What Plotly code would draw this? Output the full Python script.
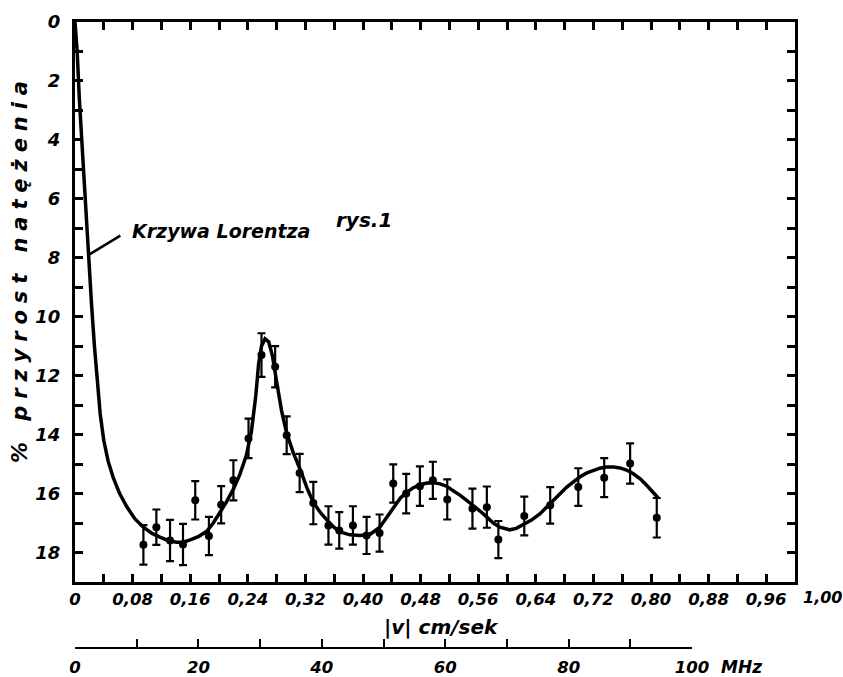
import plotly.graph_objects as go

# ---- data ----
point_x = [0.095, 0.113, 0.132, 0.150, 0.167, 0.186, 0.203, 0.220, 0.241, 0.259, 0.278,
           0.294, 0.312, 0.331, 0.352, 0.367, 0.386, 0.405, 0.423, 0.442, 0.460, 0.479,
           0.497, 0.517, 0.552, 0.572, 0.588, 0.624, 0.660, 0.699, 0.735, 0.771, 0.808]
point_y = [17.74, 17.14, 17.59, 17.73, 16.23, 17.44, 16.38, 15.55, 14.13, 11.3, 11.7,
           14.02, 15.3, 16.32, 17.08, 17.25, 17.08, 17.42, 17.34, 15.66, 16.0, 15.75,
           15.55, 16.2, 16.51, 16.46, 17.56, 16.76, 16.4, 15.78, 15.46, 14.98, 16.82]
point_err = [0.67, 0.6, 0.7, 0.7, 0.65, 0.65, 0.63, 0.68, 0.67, 0.74, 0.7,
             0.64, 0.65, 0.72, 0.65, 0.62, 0.65, 0.63, 0.63, 0.65, 0.67, 0.67,
             0.63, 0.68, 0.68, 0.7, 0.63, 0.66, 0.62, 0.64, 0.66, 0.68, 0.67]

curve_x = [0.000, 0.003, 0.006, 0.010, 0.014, 0.019, 0.023, 0.027, 0.031, 0.035, 0.040,
           0.046, 0.053, 0.062, 0.072, 0.083, 0.095, 0.107, 0.118, 0.130, 0.141, 0.150,
           0.160, 0.172, 0.183, 0.192, 0.201, 0.210, 0.220, 0.229, 0.238, 0.245, 0.251,
           0.255, 0.259, 0.264, 0.269, 0.274, 0.280, 0.287, 0.294, 0.303, 0.313, 0.322,
           0.331, 0.341, 0.350, 0.360, 0.368, 0.382, 0.396, 0.410, 0.423, 0.433, 0.442,
           0.452, 0.461, 0.470, 0.479, 0.489, 0.498, 0.507, 0.516, 0.526, 0.535, 0.544,
           0.553, 0.563, 0.572, 0.581, 0.590, 0.597, 0.604, 0.613, 0.623, 0.634, 0.646,
           0.655, 0.664, 0.674, 0.683, 0.692, 0.701, 0.711, 0.720, 0.729, 0.738, 0.748,
           0.757, 0.766, 0.775, 0.785, 0.794, 0.803, 0.810]
curve_y = [0.0, 1.0, 2.6, 4.3, 6.0, 8.0, 9.6, 11.0, 12.15, 13.3, 14.2,
           14.9, 15.45, 16.0, 16.45, 16.85, 17.14, 17.35, 17.48, 17.6, 17.65, 17.65,
           17.57, 17.45, 17.28, 17.0, 16.65, 16.3, 15.85, 15.35, 14.7, 13.9, 12.7,
           11.6, 11.0, 10.75, 10.85, 11.3, 12.2, 13.2, 13.95, 14.6, 15.2, 15.8,
           16.3, 16.65, 16.9, 17.15, 17.3, 17.4, 17.42, 17.38, 17.15, 16.8, 16.45,
           16.15, 15.95, 15.8, 15.7, 15.64, 15.63, 15.67, 15.75, 15.9, 16.06, 16.23,
           16.4, 16.6, 16.8, 17.0, 17.14, 17.2, 17.23, 17.18, 17.06, 16.9, 16.68,
           16.45, 16.23, 16.0, 15.78, 15.6, 15.44, 15.3, 15.21, 15.14, 15.1, 15.1,
           15.13, 15.2, 15.32, 15.5, 15.72, 15.95, 16.15]

x_tickvals = [i * 0.04 for i in range(26)]
x_ticktext = ["0", "", "0,08", "", "0,16", "", "0,24", "", "0,32", "", "0,40", "", "0,48", "",
              "0,56", "", "0,64", "", "0,72", "", "0,80", "", "0,88", "", "0,96", ""]
y_tickvals = list(range(0, 19))
y_ticktext = [str(v) if v % 2 == 0 else "" for v in y_tickvals]
mhz_tickvals = list(range(0, 101, 10))
mhz_ticktext = [str(v) if v % 20 == 0 else "" for v in mhz_tickvals]

FONT = "DejaVu Sans"


def bf(size):
    return dict(family=FONT, size=size, color="black", weight="bold", style="italic")


fig = go.Figure()
fig.add_trace(go.Scatter(x=curve_x, y=curve_y, mode="lines",
                         line=dict(color="black", width=3.5), hoverinfo="skip",
                         showlegend=False))
fig.add_trace(go.Scatter(x=point_x, y=point_y, mode="markers",
                         marker=dict(color="black", size=8),
                         error_y=dict(type="data", array=point_err, color="black",
                                      thickness=2.2, width=4),
                         showlegend=False))
# dummy trace to instantiate the MHz axis
fig.add_trace(go.Scatter(x=[0, 100], y=[None, None], xaxis="x2", yaxis="y",
                         mode="markers", marker=dict(opacity=0), hoverinfo="skip",
                         showlegend=False))

ydom0 = (648 - 582) / 626
fig.update_layout(
    width=843, height=677,
    margin=dict(l=75, r=48, t=22, b=29, autoexpand=False),
    paper_bgcolor="white", plot_bgcolor="rgba(0,0,0,0)",
    xaxis=dict(range=[0, 1.0], domain=[0, 1], anchor="y", automargin=False,
               tickmode="array", tickvals=x_tickvals, ticktext=x_ticktext,
               ticks="inside", ticklen=8, tickwidth=2.5, tickcolor="black",
               showline=True, linewidth=3, linecolor="black", mirror="ticks",
               showgrid=False, zeroline=False, tickfont=bf(16.5),
               ticklabelstandoff=0),
    yaxis=dict(range=[19, 0], domain=[ydom0, 1], anchor="x", automargin=False,
               tickmode="array", tickvals=y_tickvals, ticktext=y_ticktext,
               ticks="inside", ticklen=8, tickwidth=2.5, tickcolor="black",
               showline=True, linewidth=3, linecolor="black", mirror="ticks",
               showgrid=False, zeroline=False, tickfont=bf(18),
               ticklabelstandoff=8),
    xaxis2=dict(range=[0, 100], domain=[0, 0.857], anchor="free", position=0,
                automargin=False,
                tickmode="array", tickvals=mhz_tickvals, ticktext=mhz_ticktext,
                ticks="inside", ticklen=8, tickwidth=2, tickcolor="black",
                showline=True, linewidth=2, linecolor="black",
                showgrid=False, zeroline=False, tickfont=bf(16.5),
                ticklabelstandoff=4),
)

fig.add_annotation(text="1,00", xref="paper", yref="paper", x=1.0, y=(648 - 597) / 626,
                   xanchor="left", yanchor="middle", xshift=6,
                   showarrow=False, font=bf(16))
fig.add_annotation(text="MHz", xref="paper", yref="paper", x=(741 - 75) / 720,
                   y=(648 - 667) / 626,
                   xanchor="center", yanchor="middle",
                   showarrow=False, font=bf(17))
fig.add_annotation(text="|v| cm/sek", xref="paper", yref="paper",
                   x=(441 - 75) / 720, y=(648 - 627) / 626,
                   xanchor="center", yanchor="middle", showarrow=False, font=bf(20))
ytitle = "\u2004".join("% przyrost natężenia")
fig.add_annotation(text=ytitle, xref="paper", yref="paper",
                   x=(20 - 75) / 720, y=(648 - 272) / 626, textangle=-90,
                   xanchor="center", yanchor="middle", showarrow=False, font=bf(21))
fig.add_annotation(text="Krzywa Lorentza", x=(130 - 75) / 720, y=(231 - 22.8) / 29.4,
                   xanchor="left", yanchor="middle", showarrow=False, font=bf(19))
fig.add_annotation(text="rys.1", x=(334 - 75) / 720, y=(220 - 22.8) / 29.4,
                   xanchor="left", yanchor="middle", showarrow=False, font=bf(20))
fig.add_shape(type="line", x0=0.019, y0=7.9, x1=0.063, y1=7.25,
              line=dict(color="black", width=2.5))

fig.write_html("out.html")
